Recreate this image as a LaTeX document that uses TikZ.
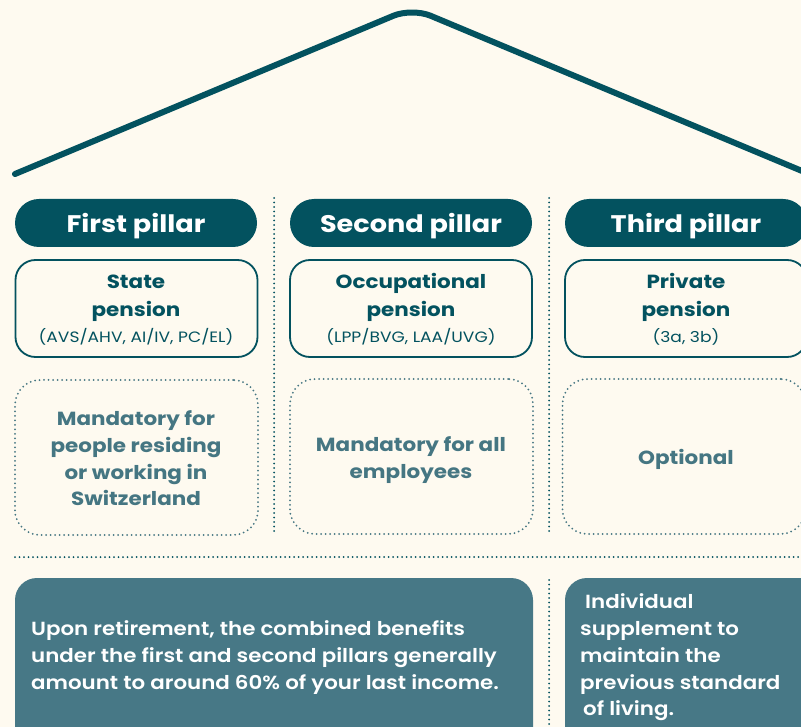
\documentclass[tikz,border=0pt]{standalone}
\usepackage{fontspec}
\setmainfont{Poppins}[FakeStretch=1.14]
\newfontfamily\popsemi{Poppins SemiBold}[FakeStretch=1.125]
\newfontfamily\popbold{Poppins Bold}[FakeStretch=1.13]
\definecolor{bgc}{HTML}{FEFAF0}
\definecolor{dark}{HTML}{03525F}
\definecolor{midt}{HTML}{457682}
\definecolor{boxf}{HTML}{477886}
\begin{document}
\begin{tikzpicture}[x=1pt,y=-1pt,
  hdr/.style={fill=dark,draw=none,rounded corners=24pt,minimum width=242pt,minimum height=48pt,inner sep=0pt},
  hdrtxt/.style={text=white,font=\popbold\fontsize{24}{28}\selectfont,anchor=base,inner sep=0pt},
  penbox/.style={draw=dark,line width=1.8pt,rounded corners=20pt,minimum width=242pt,minimum height=97pt,inner sep=0pt},
  pentitle/.style={text=dark,font=\popbold\fontsize{19}{22}\selectfont,anchor=base,inner sep=0pt},
  pensub/.style={text=dark,font=\fontsize{15}{18}\selectfont,anchor=base,inner sep=0pt},
  dotbox/.style={draw=midt,line width=2pt,dash pattern=on 0pt off 4.5pt,line cap=round,rounded corners=25pt,minimum width=243pt,minimum height=155pt,inner sep=0pt},
  dottxt/.style={text=midt,font=\popbold\fontsize{19}{22}\selectfont,anchor=base,inner sep=0pt},
  sep/.style={draw=dark,line width=2pt,dash pattern=on 0pt off 4.5pt,line cap=round},
  bottxt/.style={text=white,font=\popsemi\fontsize{19}{22}\selectfont,anchor=base west,inner sep=0pt},
  roof/.style={draw=dark,line width=6pt,line cap=round,rounded corners=20pt}]
\useasboundingbox (0,0) rectangle (801,727);
\fill[bgc] (0,0) rectangle (801,727);
\clip (0,0) rectangle (801,727);
% roof
\coordinate (rl) at (15,174);
\coordinate (ra) at (412,8);
\coordinate (rr) at (814,176);
\draw[roof] (rl) -- (ra) -- (rr);
% separators
\coordinate (v1a) at (274,198); \coordinate (v1b) at (274,535);
\coordinate (v2a) at (549,198); \coordinate (v2b) at (549,535);
\coordinate (v3a) at (549,580); \coordinate (v3b) at (549,727);
\coordinate (ha) at (15,557); \coordinate (hb) at (801,557);
\draw[sep] (v1a) -- (v1b);
\draw[sep] (v2a) -- (v2b);
\draw[sep] (v3a) -- (v3b);
\draw[sep] (ha) -- (hb);
% headers
\node[hdr] (h1) at (136,223) {};
\node[hdr] (h2) at (411,223) {};
\node[hdr] (h3) at (686,223) {};
\node[hdrtxt] (h1t) at (136,233) {First pillar};
\node[hdrtxt] (h2t) at (411,233) {Second pillar};
\node[hdrtxt] (h3t) at (686,233) {Third pillar};
% pension boxes
\node[penbox] (p1) at (136.5,308.5) {};
\node[penbox] (p2) at (411,308.5) {};
\node[penbox] (p3) at (686,308.5) {};
\node[pentitle] (p1a) at (136,289) {State};
\node[pentitle] (p1b) at (136,317) {pension};
\node[pensub] (p1c) at (136,343) {(AVS/AHV, AI/IV, PC/EL)};
\node[pentitle] (p2a) at (411,289) {Occupational};
\node[pentitle] (p2b) at (411,317) {pension};
\node[pensub] (p2c) at (411,343) {(LPP/BVG, LAA/UVG)};
\node[pentitle] (p3a) at (686,289) {Private};
\node[pentitle] (p3b) at (686,317) {pension};
\node[pensub] (p3c) at (686,343) {(3a, 3b)};
% dotted boxes
\node[dotbox] (d1) at (136.5,457.5) {};
\node[dotbox] (d2) at (411.5,456.5) {};
\node[dotbox] (d3) at (684,456.5) {};
\node[dottxt] (d1a) at (136,425) {Mandatory for};
\node[dottxt] (d1b) at (136,452) {people residing};
\node[dottxt] (d1c) at (136,479) {or working in};
\node[dottxt] (d1d) at (136,505) {Switzerland};
\node[dottxt] (d2a) at (411,451) {Mandatory for all};
\node[dottxt] (d2b) at (411,478) {employees};
\node[dottxt] (d3a) at (686,464) {Optional};
% bottom boxes
\coordinate (b1a) at (15,578); \coordinate (b1b) at (533,770);
\coordinate (b2a) at (565,578); \coordinate (b2b) at (840,770);
\fill[boxf,rounded corners=22pt] (b1a) rectangle (b1b);
\fill[boxf,rounded corners=22pt] (b2a) rectangle (b2b);
\node[bottxt] (t1) at (31,635) {Upon retirement, the combined benefits};
\node[bottxt] (t2) at (31,662) {under the first and second pillars generally};
\node[bottxt] (t3) at (31,689) {amount to around 60\% of your last income.};
\node[bottxt] (u1) at (585,608) {Individual};
\node[bottxt] (u2) at (580,635) {supplement to};
\node[bottxt] (u3) at (580,662) {maintain the};
\node[bottxt] (u4) at (580,689) {previous standard};
\node[bottxt] (u5) at (583,715) {of living.};
\end{tikzpicture}
\end{document}
